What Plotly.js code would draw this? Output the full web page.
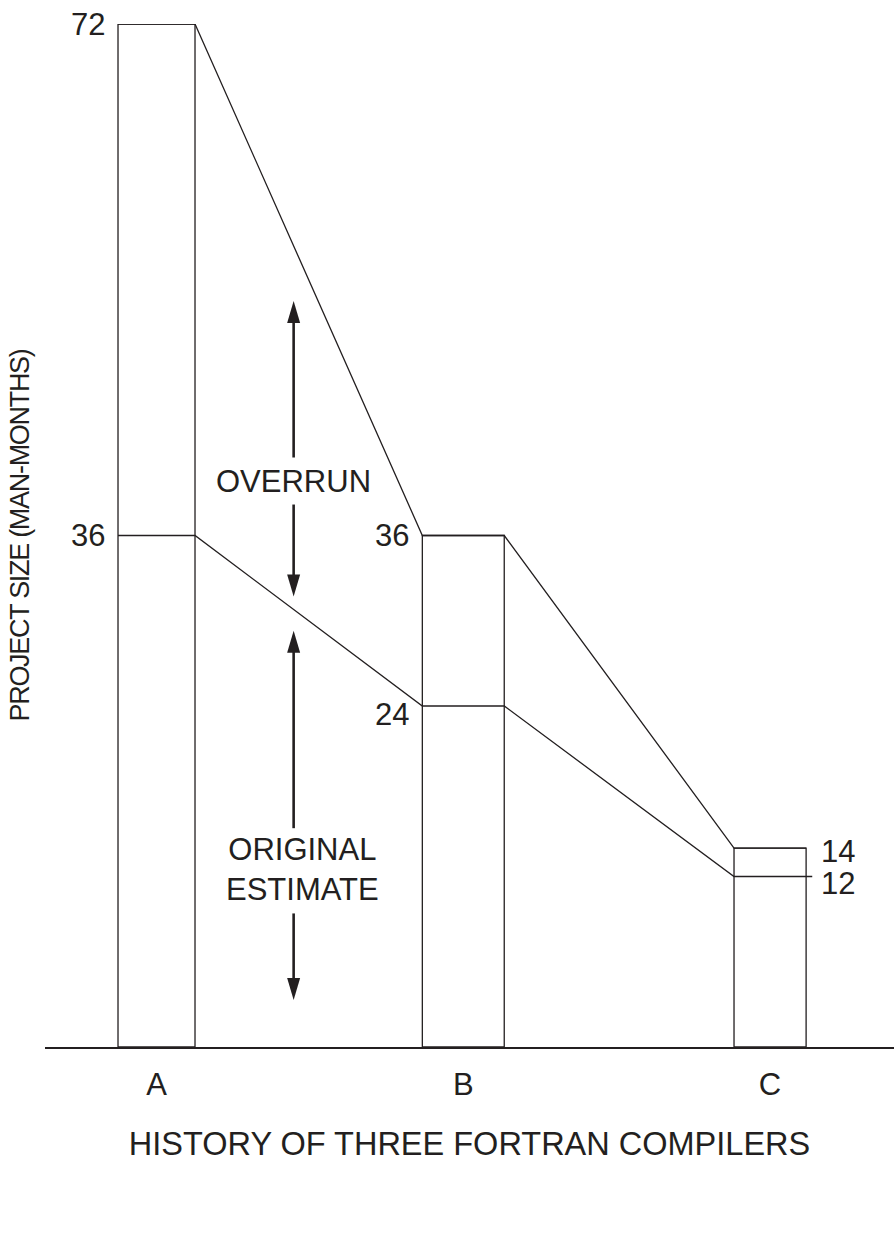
<!DOCTYPE html>
<html>
<head>
<meta charset="utf-8">
<script src="https://cdn.plot.ly/plotly-3.0.1.min.js"></script>
<style>
  html, body { margin: 0; padding: 0; background: #ffffff; }
  #chart { width: 894px; height: 1234px; }
  #chart .ytitle { letter-spacing: -1.3px; }
</style>
</head>
<body>
<div id="chart"></div>
<script>
// ---- data ----
const categories = ['A', 'B', 'C'];
const actualSize = [72, 36, 14];          // man-months actually spent
const originalEstimate = [36, 24, 12];    // man-months originally estimated
const overrunLabel = 'OVERRUN';
const estimateLabel = 'ORIGINAL<br>ESTIMATE';
const xTitle = 'HISTORY OF THREE FORTRAN COMPILERS';
const yTitle = 'PROJECT SIZE (MAN-MONTHS)';

// ---- styling constants ----
const INK = '#231f20';
const FONT = 'Liberation Sans, Arial, Helvetica, sans-serif';
const BAR_WIDTHS = [0.251, 0.267, 0.235];
const LABEL_SIDE = ['left', 'left', 'right'];
const TOTAL_YSHIFT = [0, 0, -3];
const EST_YSHIFT = [0, -8, -7];
const LEADER_EXT = 0.02;   // small leader to the last estimate label

const xPos = categories.map((c, i) => i);
const leftEdge = xPos.map((x, i) => x - BAR_WIDTHS[i] / 2);
const rightEdge = xPos.map((x, i) => x + BAR_WIDTHS[i] / 2);

// polylines joining the bars
const topX = [], topY = [], estX = [], estY = [];
xPos.forEach((x, i) => {
  topX.push(leftEdge[i], rightEdge[i]);
  topY.push(actualSize[i], actualSize[i]);
  estX.push(leftEdge[i], rightEdge[i] + (i === xPos.length - 1 ? LEADER_EXT : 0));
  estY.push(originalEstimate[i], originalEstimate[i]);
});

const traces = [
  {
    type: 'bar', x: xPos, y: actualSize, width: BAR_WIDTHS,
    marker: { color: '#ffffff', line: { color: INK, width: 1.3 } },
    hoverinfo: 'skip', cliponaxis: false, showlegend: false
  },
  {
    type: 'scatter', mode: 'lines', x: topX, y: topY,
    line: { color: INK, width: 1.3 }, hoverinfo: 'skip', cliponaxis: false, showlegend: false
  },
  {
    type: 'scatter', mode: 'lines', x: estX, y: estY,
    line: { color: INK, width: 1.3 }, hoverinfo: 'skip', cliponaxis: false, showlegend: false
  }
];

// value labels
const annotations = [];
xPos.forEach((x, i) => {
  const onLeft = LABEL_SIDE[i] === 'left';
  const ax = onLeft ? leftEdge[i] : rightEdge[i];
  [[actualSize[i], TOTAL_YSHIFT[i]], [originalEstimate[i], EST_YSHIFT[i]]].forEach(([v, ys]) => {
    annotations.push({
      x: ax, y: v, xref: 'x', yref: 'y', text: String(v), showarrow: false,
      xanchor: onLeft ? 'right' : 'left', yanchor: 'middle',
      xshift: onLeft ? -11 : 13, yshift: ys,
      font: { family: FONT, size: 31, color: INK }
    });
  });
});

// arrows with captions
const ARROW_X = 0.447;
const upper = { top: 52.5, bottom: 31.7, text: 39.8, gapUp: 1.69, gapDown: 1.62 };
const lower = { top: 29.3, bottom: 3.3, text: 12.5, gapUp: 2.9, gapDown: 3.1 };
const HEAD_IN = 0.8;

annotations.push({
  x: ARROW_X, y: upper.text, xref: 'x', yref: 'y', text: overrunLabel, showarrow: false,
  xanchor: 'center', yanchor: 'middle', font: { family: FONT, size: 31, color: INK }
});
annotations.push({
  x: ARROW_X + 0.03, y: lower.text, xref: 'x', yref: 'y', text: estimateLabel, showarrow: false,
  xanchor: 'center', yanchor: 'middle', font: { family: FONT, size: 31, color: INK }
});

const shapes = [];
function shaft(y0, y1) {
  shapes.push({ type: 'line', xref: 'x', yref: 'y', x0: ARROW_X, x1: ARROW_X, y0: y0, y1: y1,
    line: { color: INK, width: 2.6 } });
}
function head(y, up) {
  shapes.push({
    type: 'path', xref: 'x', yref: 'y', xsizemode: 'pixel', ysizemode: 'pixel',
    xanchor: ARROW_X, yanchor: y,
    path: up ? 'M0,0 L-6.5,-22 L6.5,-22 Z' : 'M0,0 L-6.5,22 L6.5,22 Z',
    fillcolor: INK, line: { width: 0 }
  });
}
[upper, lower].forEach(a => {
  shaft(a.top - HEAD_IN, a.text + a.gapUp);
  shaft(a.text - a.gapDown, a.bottom + HEAD_IN);
  head(a.top, true);
  head(a.bottom, false);
});

const layout = {
  width: 894, height: 1234,
  margin: { l: 45, r: 0, t: 24, b: 187 },
  paper_bgcolor: '#ffffff', plot_bgcolor: '#ffffff',
  font: { family: FONT, color: INK },
  showlegend: false,
  bargap: 0,
  xaxis: {
    range: [-0.3635, 2.404], fixedrange: true,
    tickvals: xPos, ticktext: categories,
    tickfont: { family: FONT, size: 31, color: INK },
    ticks: '', ticklabelstandoff: 9,
    showgrid: false, zeroline: false,
    showline: true, linecolor: INK, linewidth: 1.5,
    title: { text: xTitle, font: { family: FONT, size: 32.5, color: INK }, standoff: 31 }
  },
  yaxis: {
    range: [0, 72], fixedrange: true,
    showticklabels: false, ticks: '', showgrid: false, zeroline: false, showline: false,
    title: { text: yTitle, font: { family: FONT, size: 27, color: INK }, standoff: 6 }
  },
  annotations: annotations,
  shapes: shapes
};

Plotly.newPlot('chart', traces, layout, { staticPlot: true, displayModeBar: false });
</script>
</body>
</html>
